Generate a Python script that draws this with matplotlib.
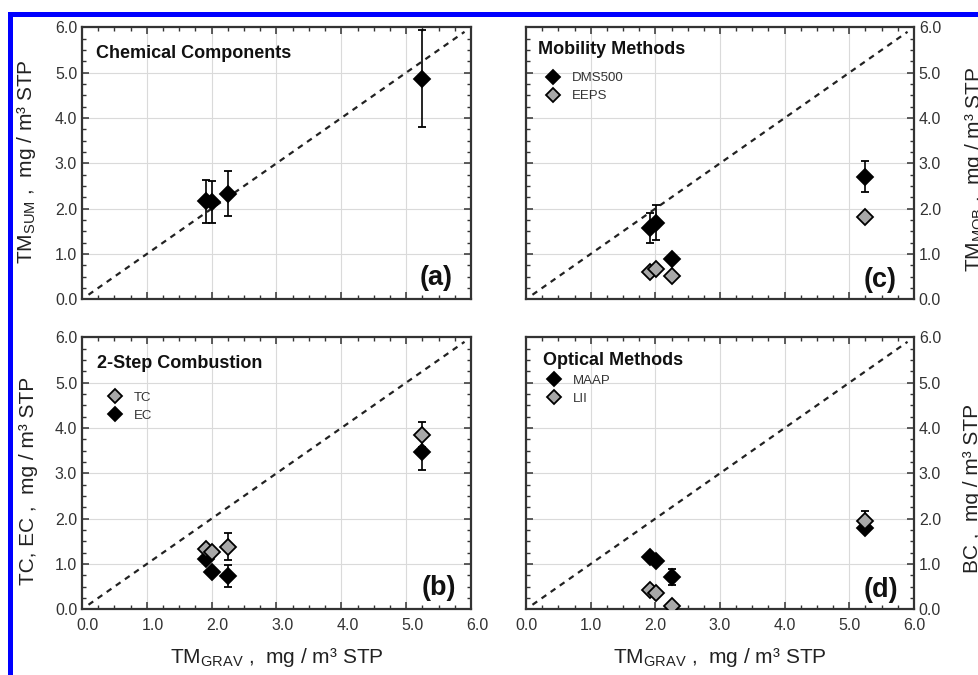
import matplotlib
matplotlib.use('Agg')
import matplotlib.pyplot as plt
import numpy as np
from matplotlib.ticker import MultipleLocator, FormatStrFormatter
from matplotlib.patches import Rectangle
from matplotlib.lines import Line2D
from matplotlib.transforms import ScaledTranslation

plt.rcParams['font.family'] = ['Liberation Sans', 'DejaVu Sans']
plt.rcParams['mathtext.fontset'] = 'custom'
plt.rcParams['mathtext.rm'] = 'Liberation Sans'

# === Data (x = gravimetric total mass, same for every panel)
tm_grav = [1.91, 2.01, 2.25, 5.24]

# (a) chemical components
tm_sum = [2.16, 2.15, 2.33, 4.87]
tm_sum_err = [0.47, 0.47, 0.50, 1.08]

# (b) 2-step combustion
tc = [1.33, 1.27, 1.38, 3.85]
tc_err = [0.05, 0.05, 0.30, 0.28]
ec = [1.12, 0.83, 0.73, 3.48]
ec_err = [0.10, 0.05, 0.24, 0.40]

# (c) mobility methods
dms500 = [1.58, 1.69, 0.89, 2.70]
dms500_err = [0.33, 0.38, 0.0, 0.34]
eeps = [0.61, 0.66, 0.51, 1.82]
eeps_err = [0.0, 0.0, 0.0, 0.0]

# (d) optical methods
maap = [1.16, 1.07, 0.71, 1.80]
maap_err = [0.05, 0.05, 0.17, 0.08]
lii = [0.43, 0.37, 0.07, 1.94]
lii_err = [0.0, 0.0, 0.0, 0.22]

one_to_one = [0.1, 5.9]

BLACK = '#000000'
GRAY = '#a8a8a8'
MS = 8.6

fig = plt.figure(figsize=(9.79, 6.75), dpi=100)
W, H = 979.0, 675.0

def px_axes(l, t, r, b):
    return fig.add_axes([l / W, 1 - b / H, (r - l) / W, (b - t) / H])

ax_a = px_axes(82, 27.3, 471, 299.3)
ax_c = px_axes(526, 27.3, 914, 299.3)
ax_b = px_axes(82, 337.3, 471, 609.3)
ax_d = px_axes(526, 337.3, 914, 609.3)

def style_axes(ax, right=False, bottom_labels=False):
    ax.set_xlim(0, 6)
    ax.set_ylim(0, 6)
    ax.xaxis.set_major_locator(MultipleLocator(1.0))
    ax.yaxis.set_major_locator(MultipleLocator(1.0))
    ax.xaxis.set_minor_locator(MultipleLocator(0.25))
    ax.yaxis.set_minor_locator(MultipleLocator(0.25))
    ax.xaxis.set_major_formatter(FormatStrFormatter('%.1f'))
    ax.yaxis.set_major_formatter(FormatStrFormatter('%.1f'))
    ax.grid(True, which='major', color='#dadada', lw=0.8, zorder=0)
    ax.set_axisbelow(True)
    ax.tick_params(which='both', direction='in', top=True, right=True,
                   color='#333333', labelsize=11.5, labelcolor='#333333')
    ax.tick_params(which='major', length=5, width=1.1)
    ax.tick_params(which='minor', length=3, width=1.0)
    ax.tick_params(axis='x', pad=6, labelbottom=bottom_labels)
    ax.tick_params(axis='y', pad=3.5, labelleft=not right, labelright=right)
    for s in ax.spines.values():
        s.set_linewidth(1.6)
        s.set_color('#333333')
    ax.plot(one_to_one, one_to_one, color='#222222', lw=1.6,
            dashes=(2.6, 2.4), zorder=2)

def series(ax, y, err, face):
    ax.errorbar(tm_grav, y, yerr=err, fmt='D', ms=MS, mfc=face, mec=BLACK,
                mew=1.3, ecolor=BLACK, elinewidth=1.2, capsize=3,
                capthick=1.2, zorder=3)

def title(ax, txt, x, y):
    ax.text(x, y, txt, transform=ax.transAxes, ha='left', va='center',
            fontsize=13, fontweight='bold', color='#111111')

def panel(ax, txt, x, y):
    ax.text(x, y, txt, transform=ax.transAxes, ha='right', va='center',
            fontsize=19.5, fontweight='bold', color='#111111')

def legend(ax, entries, x, y):
    handles = [Line2D([], [], ls='none', marker='D', ms=MS * 0.88, mfc=face,
                      mec=BLACK, mew=1.3) for face, _ in entries]
    labels = [lab for _, lab in entries]
    ax.legend(handles, labels, loc='upper left', bbox_to_anchor=(x, y),
              frameon=False, borderpad=0, borderaxespad=0, handlelength=1.0,
              handletextpad=0.95, labelspacing=0.42, fontsize=9.5,
              labelcolor='#333333')

xlab = r'TM$_{\mathrm{GRAV}}$ ,  mg / m³ STP'

# (a)
style_axes(ax_a)
series(ax_a, tm_sum, tm_sum_err, BLACK)
title(ax_a, 'Chemical Components', 0.0365, 0.904)
panel(ax_a, '(a)', 0.954, 0.078)
ax_a.set_ylabel(r'TM$_{\mathrm{SUM}}$ ,  mg / m³ STP', fontsize=15, color='#222222')
ax_a.yaxis.set_label_coords(-0.113, 0.507)

# (b)
style_axes(ax_b, bottom_labels=True)
series(ax_b, ec, ec_err, BLACK)
series(ax_b, tc, tc_err, GRAY)
legend(ax_b, [(GRAY, 'TC'), (BLACK, 'EC')], 0.067, 0.80)
title(ax_b, '2-Step Combustion', 0.038, 0.904)
panel(ax_b, '(b)', 0.962, 0.078)
ax_b.set_ylabel('TC, EC ,  mg / m³ STP', fontsize=15, color='#222222')
ax_b.yaxis.set_label_coords(-0.113, 0.472)
ax_b.set_xlabel(xlab, fontsize=15, color='#222222')
ax_b.xaxis.set_label_coords(0.5, -0.135)
for t in ax_b.get_xticklabels():
    t.set_transform(t.get_transform() + ScaledTranslation(6 / 100, 0, fig.dpi_scale_trans))

# (c)
style_axes(ax_c, right=True)
series(ax_c, dms500, dms500_err, BLACK)
series(ax_c, eeps, eeps_err, GRAY)
legend(ax_c, [(BLACK, 'DMS500'), (GRAY, 'EEPS')], 0.052, 0.835)
title(ax_c, 'Mobility Methods', 0.031, 0.92)
panel(ax_c, '(c)', 0.955, 0.071)
ax_c.yaxis.set_label_position('right')
ax_c.set_ylabel(r'TM$_{\mathrm{MOB}}$ ,  mg / m³ STP', fontsize=15, color='#222222')
ax_c.yaxis.set_label_coords(1.126, 0.48)

# (d)
style_axes(ax_d, right=True, bottom_labels=True)
series(ax_d, maap, maap_err, BLACK)
series(ax_d, lii, lii_err, GRAY)
legend(ax_d, [(BLACK, 'MAAP'), (GRAY, 'LII')], 0.055, 0.862)
title(ax_d, 'Optical Methods', 0.045, 0.914)
panel(ax_d, '(d)', 0.959, 0.071)
ax_d.yaxis.set_label_position('right')
ax_d.set_ylabel('BC ,  mg / m³ STP', fontsize=15, color='#222222')
ax_d.yaxis.set_label_coords(1.126, 0.446)
ax_d.set_xlabel(xlab, fontsize=15, color='#222222')
ax_d.xaxis.set_label_coords(0.5, -0.135)

# blue frame lines at the top and left edge
fig.add_artist(Rectangle((8.3 / W, 0), 5 / W, 1 - 11.7 / H, transform=fig.transFigure,
                         color='#0000ff', lw=0))
fig.add_artist(Rectangle((8.3 / W, 1 - 16.7 / H), 1, 5 / H, transform=fig.transFigure,
                         color='#0000ff', lw=0))

fig.savefig('out.png', dpi=100)
